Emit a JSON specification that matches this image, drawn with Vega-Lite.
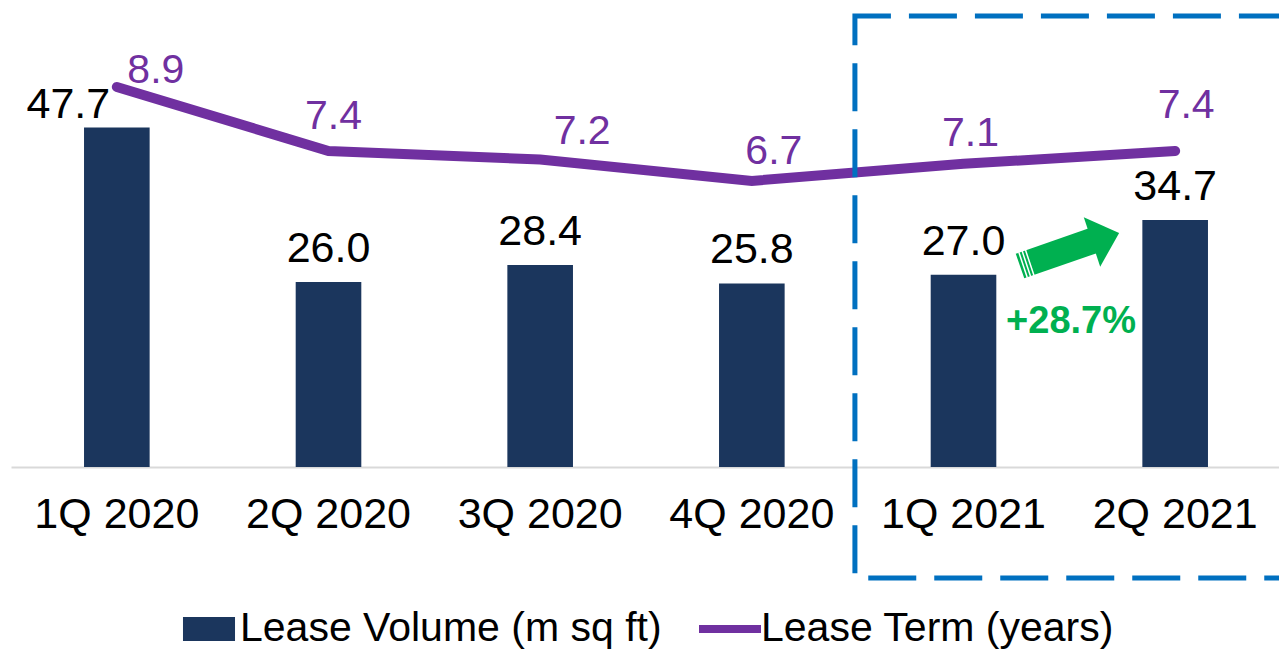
{
  "$schema": "https://vega.github.io/schema/vega-lite/v6.json",
  "width": 1270,
  "height": 427,
  "autosize": {"type": "none"},
  "padding": {"left": 11, "top": 40, "right": 0, "bottom": 182},
  "config": {"font": "Liberation Sans", "view": {"stroke": null}},
  "datasets": {
    "main": [
      {"q": "1Q 2020", "volume": 47.7, "term": 8.9},
      {"q": "2Q 2020", "volume": 26.0, "term": 7.4},
      {"q": "3Q 2020", "volume": 28.4, "term": 7.2},
      {"q": "4Q 2020", "volume": 25.8, "term": 6.7},
      {"q": "1Q 2021", "volume": 27.0, "term": 7.1},
      {"q": "2Q 2021", "volume": 34.7, "term": 7.4}
    ],
    "box": [{"x0": 3.987, "x1": 6.05, "y0": 63.37, "y1": -15.6}],
    "shaft": [{"x": 4.767, "y": 28.24}, {"x": 5.116, "y": 31.84}],
    "stripes": [{"x": 4.767, "y": 28.24}, {"x": 4.857, "y": 29.13}],
    "head": [{"x": 5.107, "y": 31.62}],
    "note": [{"x": 5.008, "y": 18.83, "label": "+28.7%"}]
  },
  "layer": [
    {
      "data": {"name": "main"},
      "encoding": {
        "x": {
          "field": "q", "type": "nominal", "sort": null,
          "scale": {"paddingInner": 0.69, "paddingOuter": 0.345},
          "axis": {"title": null, "labelAngle": 0, "labelFontSize": 43, "labelColor": "#000", "labelPadding": 26, "ticks": false, "tickSize": 0, "domainColor": "#D9D9D9", "domainWidth": 2, "grid": false}
        }
      },
      "layer": [
        {
          "layer": [
            {
              "mark": {"type": "bar"},
              "encoding": {
                "y": {"field": "volume", "type": "quantitative", "scale": {"domain": [0, 60], "nice": false}, "axis": null},
                "color": {
                  "datum": "Lease Volume (m sq ft)", "type": "nominal",
                  "scale": {"domain": ["Lease Volume (m sq ft)", "Lease Term (years)"], "range": ["#1B365D", "#7030A0"]},
                  "legend": {
                    "orient": "none", "legendX": 170, "legendY": 561, "direction": "horizontal",
                    "title": null, "labelFontSize": 41, "labelColor": "#000", "labelOffset": 3,
                    "columnPadding": 37, "symbolSize": 3136, "padding": 0, "labelLimit": 1000,
                    "encode": {
                      "symbols": {
                        "update": {
                          "shape": {"signal": "datum.value === 'Lease Term (years)' ? 'M-1.107,-0.143H1.107V0.143H-1.107Z' : 'M-0.929,-0.43H0.929V0.43H-0.929Z'"},
                          "fill": {"signal": "datum.value === 'Lease Term (years)' ? '#7030A0' : '#1B365D'"},
                          "stroke": {"value": "transparent"},
                          "strokeWidth": {"value": 0},
                          "opacity": {"value": 1}
                        }
                      }
                    }
                  }
                }
              }
            },
            {
              "transform": [{"filter": "datum.q !== '1Q 2020'"}],
              "mark": {"type": "text", "fontSize": 43, "dy": -20, "baseline": "alphabetic", "color": "#000"},
              "encoding": {
                "y": {"field": "volume", "type": "quantitative", "scale": {"domain": [0, 60], "nice": false}, "axis": null},
                "text": {"field": "volume", "type": "quantitative", "format": ".1f"}
              }
            },
            {
              "transform": [{"filter": "datum.q === '1Q 2020'"}],
              "mark": {"type": "text", "fontSize": 43, "dy": -10, "dx": -48.5, "baseline": "alphabetic", "color": "#000"},
              "encoding": {
                "y": {"field": "volume", "type": "quantitative", "scale": {"domain": [0, 60], "nice": false}, "axis": null},
                "text": {"field": "volume", "type": "quantitative", "format": ".1f"}
              }
            }
          ]
        },
        {
          "encoding": {
            "y": {"field": "term", "type": "quantitative", "scale": {"domain": [0, 10], "nice": false}, "axis": null},
            "text": {"field": "term", "type": "quantitative", "format": ".1f"}
          },
          "layer": [
            {
              "mark": {"type": "line", "strokeWidth": 10, "strokeCap": "round"},
              "encoding": {"color": {"datum": "Lease Term (years)", "type": "nominal"}, "text": null}
            },
            {"transform": [{"filter": "datum.q === '1Q 2020'"}], "mark": {"type": "text", "fontSize": 41, "color": "#7030A0", "baseline": "alphabetic", "dx": 39, "dy": -4}},
            {"transform": [{"filter": "datum.q === '2Q 2020'"}], "mark": {"type": "text", "fontSize": 41, "color": "#7030A0", "baseline": "alphabetic", "dx": 5, "dy": -22}},
            {"transform": [{"filter": "datum.q === '3Q 2020'"}], "mark": {"type": "text", "fontSize": 41, "color": "#7030A0", "baseline": "alphabetic", "dx": 42, "dy": -16}},
            {"transform": [{"filter": "datum.q === '4Q 2020'"}], "mark": {"type": "text", "fontSize": 41, "color": "#7030A0", "baseline": "alphabetic", "dx": 22, "dy": -17}},
            {"transform": [{"filter": "datum.q === '1Q 2021'"}], "mark": {"type": "text", "fontSize": 41, "color": "#7030A0", "baseline": "alphabetic", "dx": 7, "dy": -18}},
            {"transform": [{"filter": "datum.q === '2Q 2021'"}], "mark": {"type": "text", "fontSize": 41, "color": "#7030A0", "baseline": "alphabetic", "dx": 11, "dy": -33}}
          ]
        }
      ],
      "resolve": {"scale": {"y": "independent"}}
    },
    {
      "layer": [
        {
          "data": {"name": "box"},
          "mark": {"type": "rect", "fill": "transparent", "stroke": "#0070C0", "strokeWidth": 5, "strokeDash": [48, 18], "strokeDashOffset": 12},
          "encoding": {
            "x": {"field": "x0", "type": "quantitative", "scale": {"domain": [0, 6], "nice": false, "zero": false}, "axis": null},
            "x2": {"field": "x1"},
            "y": {"field": "y0", "type": "quantitative", "scale": {"domain": [0, 60], "nice": false}, "axis": null},
            "y2": {"field": "y1"}
          }
        },
        {
          "data": {"name": "shaft"},
          "mark": {"type": "line", "color": "#00B050", "strokeWidth": 26, "strokeCap": "butt"},
          "encoding": {
            "x": {"field": "x", "type": "quantitative", "scale": {"domain": [0, 6], "nice": false, "zero": false}, "axis": null},
            "y": {"field": "y", "type": "quantitative", "scale": {"domain": [0, 60], "nice": false}, "axis": null}
          }
        },
        {
          "data": {"name": "stripes"},
          "mark": {"type": "line", "color": "#FFFFFF", "strokeWidth": 27, "strokeCap": "butt", "strokeDash": [0, 2.5, 1.5, 2, 1.5, 2, 1.5, 100]},
          "encoding": {
            "x": {"field": "x", "type": "quantitative", "scale": {"domain": [0, 6], "nice": false, "zero": false}, "axis": null},
            "y": {"field": "y", "type": "quantitative", "scale": {"domain": [0, 60], "nice": false}, "axis": null}
          }
        },
        {
          "data": {"name": "head"},
          "mark": {"type": "point", "shape": "M0,-1L1.1,0L0,1Z", "size": 2704, "angle": -18.4, "filled": true, "color": "#00B050", "opacity": 1, "strokeWidth": 0},
          "encoding": {
            "x": {"field": "x", "type": "quantitative", "scale": {"domain": [0, 6], "nice": false, "zero": false}, "axis": null},
            "y": {"field": "y", "type": "quantitative", "scale": {"domain": [0, 60], "nice": false}, "axis": null}
          }
        },
        {
          "data": {"name": "note"},
          "mark": {"type": "text", "fontSize": 38, "fontWeight": "bold", "color": "#00B050", "baseline": "alphabetic"},
          "encoding": {
            "x": {"field": "x", "type": "quantitative", "scale": {"domain": [0, 6], "nice": false, "zero": false}, "axis": null},
            "y": {"field": "y", "type": "quantitative", "scale": {"domain": [0, 60], "nice": false}, "axis": null},
            "text": {"field": "label"}
          }
        }
      ]
    }
  ],
  "resolve": {"scale": {"x": "independent", "y": "independent"}}
}
